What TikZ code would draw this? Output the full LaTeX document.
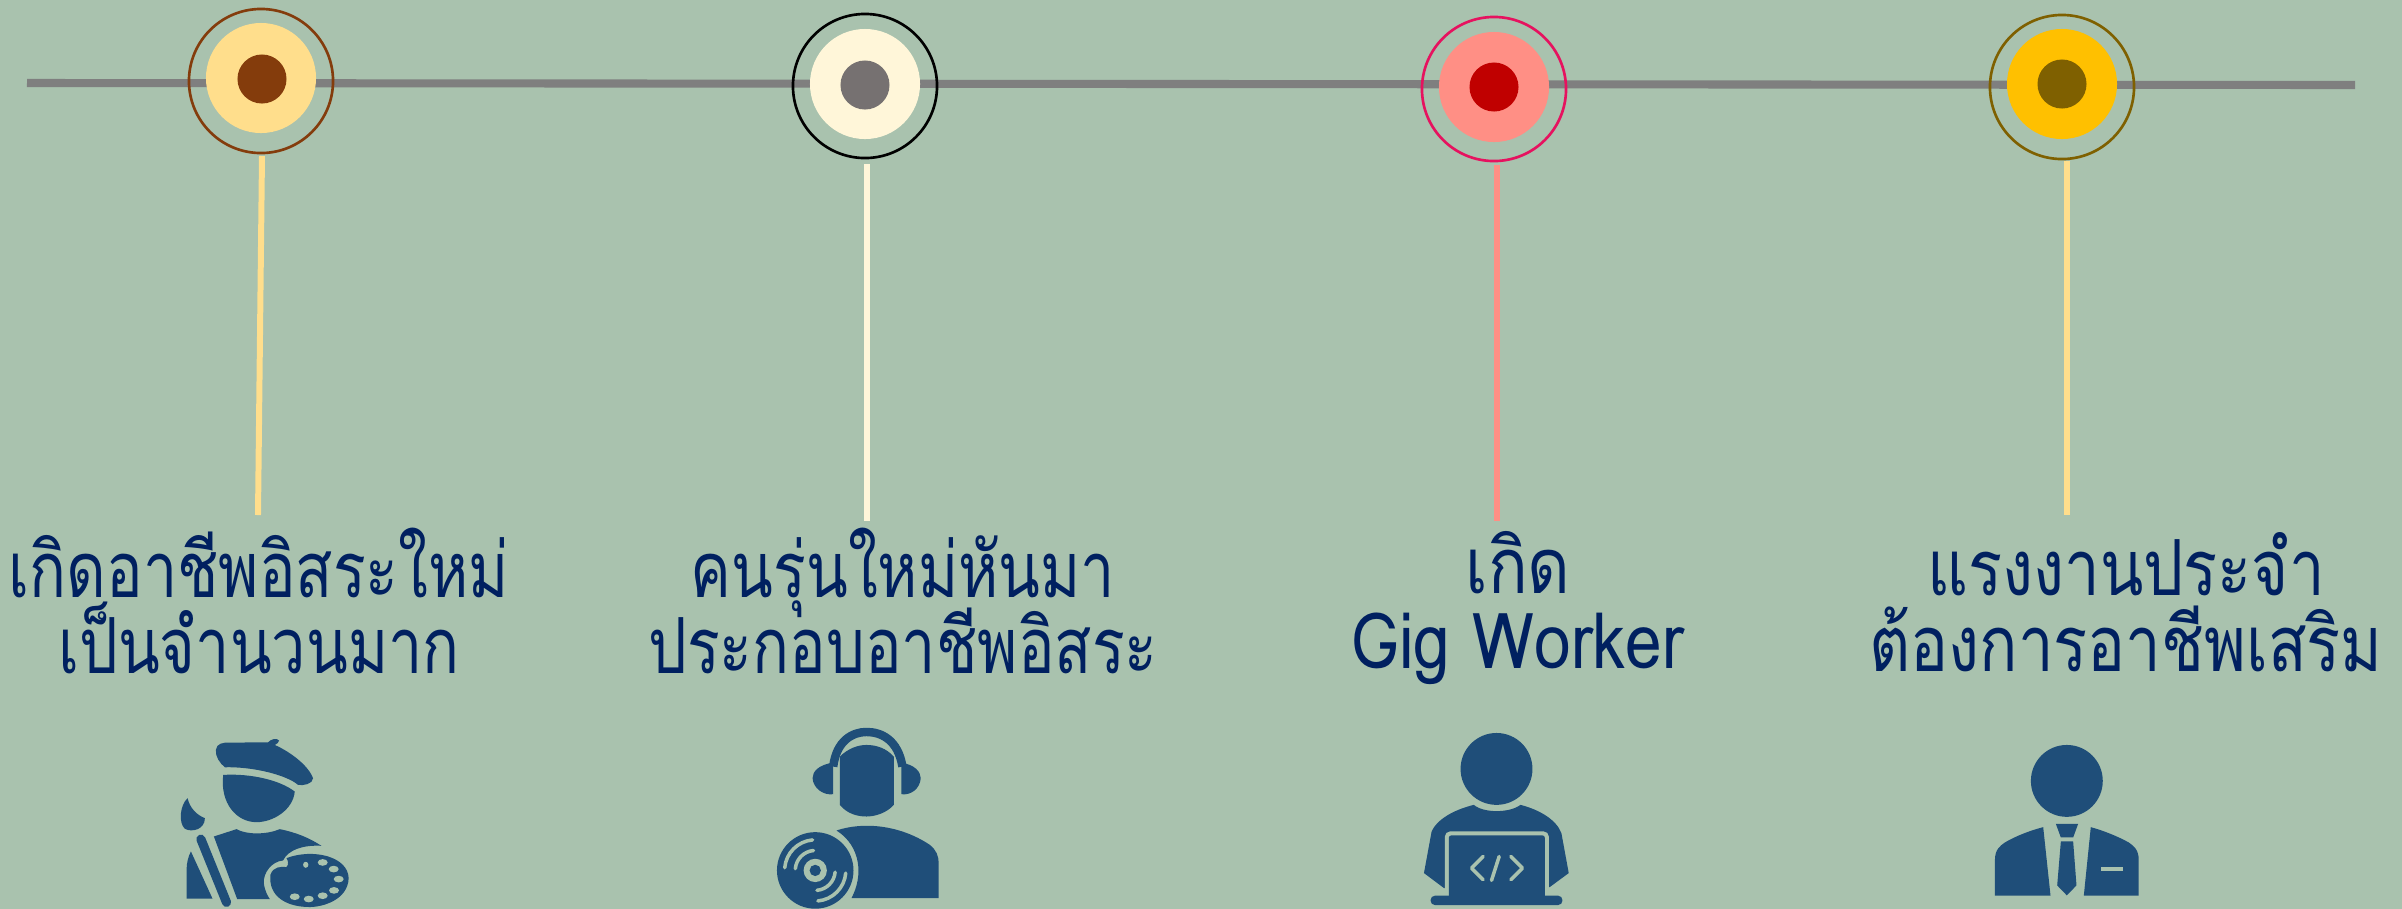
\documentclass[tikz,border=0pt]{standalone}
\usepackage{fontspec}
\usetikzlibrary{positioning}
\newfontfamily\thaifont[Script=Thai,FakeStretch=0.82]{Loma}
\newfontfamily\thainarrow[Script=Thai,FakeStretch=0.79]{Loma}
\newfontfamily\thaiwide[Script=Thai,FakeStretch=0.85]{Loma}
\newcommand{\tightskip}{\lineskiplimit=-30pt\relax}
\definecolor{bgsage}{HTML}{A9C2AE}
\definecolor{linegray}{HTML}{7F7F7F}
\definecolor{iconblue}{HTML}{1F4E79}
\definecolor{textnavy}{HTML}{002060}
\definecolor{sand}{HTML}{FFDE8C}
\definecolor{brownish}{HTML}{843C0C}
\definecolor{cream}{HTML}{FFF6D9}
\definecolor{darkgray}{HTML}{767171}
\definecolor{salmon}{HTML}{FF8F85}
\definecolor{crimson}{HTML}{C00000}
\definecolor{rosered}{HTML}{E6125F}
\definecolor{amber}{HTML}{FFC000}
\definecolor{olive}{HTML}{7F6000}
\tikzset{
  ring/.style={circle,draw=#1,line width=0.75pt,minimum size=1.44cm,inner sep=0pt},
  disk/.style={circle,fill=#1,minimum size=1.10cm,inner sep=0pt},
  dot/.style={circle,fill=#1,minimum size=0.49cm,inner sep=0pt},
  stem/.style={draw=#1,line width=1.7pt},
  linetext/.style={text=textnavy,font=#1\fontsize{22}{21.6}\selectfont\tightskip,align=center,inner sep=0pt},
  iconfill/.style={fill=iconblue,draw=none},
  iconhole/.style={fill=bgsage,draw=none},
  iconcut/.style={draw=bgsage,line width=1pt,line cap=round,line join=round},
  icon/.style={shift={#1},x=0.003333cm,y=-0.003333cm}
}
\begin{document}
\begin{tikzpicture}[x=0.01cm,y=-0.01cm]
\useasboundingbox (0,0) rectangle (2402,908);
\fill[bgsage] (-2,-2) rectangle (2404,910);
\coordinate (lineL) at (27,83);
\coordinate (lineR) at (2355,85);
\draw[linegray,line width=2.3pt] (lineL) -- (lineR);
% timeline marks
\node[disk=sand] (diskA) at (261,78) {};
\node[disk=cream] (diskB) at (865,84) {};
\node[disk=salmon] (diskC) at (1494,87) {};
\node[disk=amber] (diskD) at (2062,84) {};
\node[dot=brownish] (dotA) at (262,79) {};
\node[dot=darkgray] (dotB) at (865,85) {};
\node[dot=crimson] (dotC) at (1494,87) {};
\node[dot=olive] (dotD) at (2062,84) {};
\node[ring=brownish] (ringA) at (261,81) {};
\node[ring=black] (ringB) at (865,86) {};
\node[ring=rosered] (ringC) at (1494,89) {};
\node[ring=olive] (ringD) at (2062,87) {};
\coordinate (topA) at (262,156);
\coordinate (topB) at (867,164);
\coordinate (topC) at (1497,165);
\coordinate (topD) at (2067,161);
\coordinate (endA) at (258,515);
\coordinate (endB) at (867,521);
\coordinate (endC) at (1497,521);
\coordinate (endD) at (2067,515);
\draw[stem=sand] (topA) -- (endA);
\draw[stem=cream] (topB) -- (endB);
\draw[stem=salmon] (topC) -- (endC);
\draw[stem=sand] (topD) -- (endD);
% texts
\node[linetext=\thainarrow] (textA) at (259,601) {เกิดอาชีพอิสระใหม่\\เป็นจำนวนมาก};
\node[linetext=\thainarrow] (textB) at (903,601) {คนรุ่นใหม่หันมา\\ประกอบอาชีพอิสระ};
\node[linetext=\thaiwide] (textC) at (1518,608) {เกิด\\Gig Worker};
\node[linetext=\thaifont] (textD) at (2126,602) {แรงงานประจำ\\ต้องการอาชีพเสริม};
% painter
\begin{scope}[icon={(140,710)}]
\fill[iconfill] (228,120) .. controls (230,100) and (250,97) .. (270,98) -- (385,97) .. controls (392,88) and (412,82) .. (418,92) .. controls (418,98) and (410,102) .. (405,105) .. controls (450,125) and (505,165) .. (520,205) .. controls (520,222) and (490,228) .. (475,225) .. controls (440,195) and (340,170) .. (255,172) .. controls (240,160) and (226,140) .. (228,120) -- cycle;
\fill[iconfill] (250,195) .. controls (330,190) and (420,210) .. (465,245) .. controls (460,300) and (400,337) .. (350,337) .. controls (290,337) and (240,280) .. (250,195) -- cycle;
\fill[iconfill] (143,265) .. controls (120,285) and (115,340) .. (135,357) .. controls (155,368) and (195,360) .. (195,325) .. controls (170,315) and (150,295) .. (143,265) -- cycle;
\draw[iconblue,line width=2.6pt,line cap=round] (183,388) -- (260,578);
\fill[iconfill] (222,380) -- (290,358) .. controls (320,375) and (380,375) .. (420,358) .. controls (470,368) and (510,385) .. (545,408) .. controls (490,405) and (445,420) .. (430,452) .. controls (395,455) and (370,490) .. (372,520) .. controls (375,545) and (385,560) .. (390,568) -- (292,568) -- cycle;
\fill[iconfill] (153,425) -- (218,567) -- (140,567) -- (140,480) .. controls (140,460) and (145,440) .. (153,425) -- cycle;
\fill[iconfill] (440,445) .. controls (520,415) and (625,440) .. (627,505) .. controls (625,570) and (550,592) .. (510,592) .. controls (440,592) and (385,560) .. (392,495) .. controls (400,470) and (425,470) .. (440,472) .. controls (448,465) and (445,452) .. (440,445) -- cycle;
\foreach \px/\py in {549/458,582/478,597/508,583/542,549/558,507/568,465/561}
  \fill[iconhole] (\px,\py) ellipse (15 and 10);
\fill[iconhole] (498,465) ellipse (8 and 9);
\end{scope}
% listener
\begin{scope}[icon={(750,710)}]
\draw[iconblue,line width=2.4pt] (250,170) .. controls (260,90) and (310,66) .. (350,66) .. controls (395,66) and (445,90) .. (458,170);
\fill[iconfill] (250,158) .. controls (205,165) and (188,185) .. (188,205) .. controls (190,235) and (220,257) .. (250,253) -- cycle;
\fill[iconfill] (455,158) .. controls (495,165) and (513,185) .. (513,205) .. controls (511,235) and (485,257) .. (455,253) -- cycle;
\fill[iconfill] (270,140) .. controls (295,115) and (325,105) .. (350,105) .. controls (380,105) and (410,115) .. (432,140) -- (432,285) .. controls (410,310) and (375,320) .. (350,320) .. controls (320,320) and (290,310) .. (270,285) -- cycle;
\fill[iconfill] (260,362) .. controls (340,335) and (450,345) .. (540,405) .. controls (560,420) and (567,440) .. (567,460) -- (567,565) -- (305,565) .. controls (340,500) and (335,410) .. (260,362) -- cycle;
\coordinate (discC) at (196,482);
\fill[iconfill] (discC) circle (115);
\fill[iconhole] (discC) circle (35);
\fill[iconfill] (discC) circle (17);
\draw[iconcut] (discC) ++(185:92) arc[start angle=185,end angle=265,radius=92];
\draw[iconcut] (discC) ++(185:60) arc[start angle=185,end angle=265,radius=60];
\draw[iconcut] (discC) ++(5:92) arc[start angle=5,end angle=85,radius=92];
\draw[iconcut] (discC) ++(5:60) arc[start angle=5,end angle=85,radius=60];
\end{scope}
% coder
\begin{scope}[icon={(1400,710)}]
\fill[iconfill] (290,177) circle (108);
\fill[iconfill] (222,285) .. controls (250,310) and (330,310) .. (362,285) .. controls (420,300) and (470,330) .. (485,370) -- (507,490) -- (450,532) -- (132,535) -- (72,490) -- (95,365) .. controls (110,330) and (160,300) .. (222,285) -- cycle;
\fill[iconhole,rounded corners=1.4pt] (135,365) rectangle (447,570);
\fill[iconfill,rounded corners=0.6pt] (147,377) rectangle (435,565);
\fill[iconfill,rounded corners=1.2pt] (92,558) rectangle (488,586);
\draw[iconcut] (250,440) -- (215,475) -- (250,510);
\draw[iconcut] (298,440) -- (275,512);
\draw[iconcut] (333,440) -- (368,475) -- (333,510);
\end{scope}
% employee
\begin{scope}[icon={(1960,710)}]
\fill[iconfill] (321,213) circle (108);
\fill[iconfill] (250,352) -- (272,558) -- (105,558) -- (105,450) .. controls (105,420) and (120,408) .. (135,398) .. controls (165,380) and (210,362) .. (250,352) -- cycle;
\fill[iconfill] (393,352) -- (372,558) -- (537,558) -- (537,450) .. controls (537,420) and (522,408) .. (507,398) .. controls (475,380) and (430,362) .. (393,352) -- cycle;
\fill[iconfill] (288,342) -- (355,342) -- (340,383) -- (303,383) -- cycle;
\fill[iconfill] (303,395) -- (340,395) -- (350,527) -- (321,557) -- (292,527) -- cycle;
\fill[iconhole] (424,471) rectangle (491,484);
\end{scope}
\end{tikzpicture}
\end{document}
